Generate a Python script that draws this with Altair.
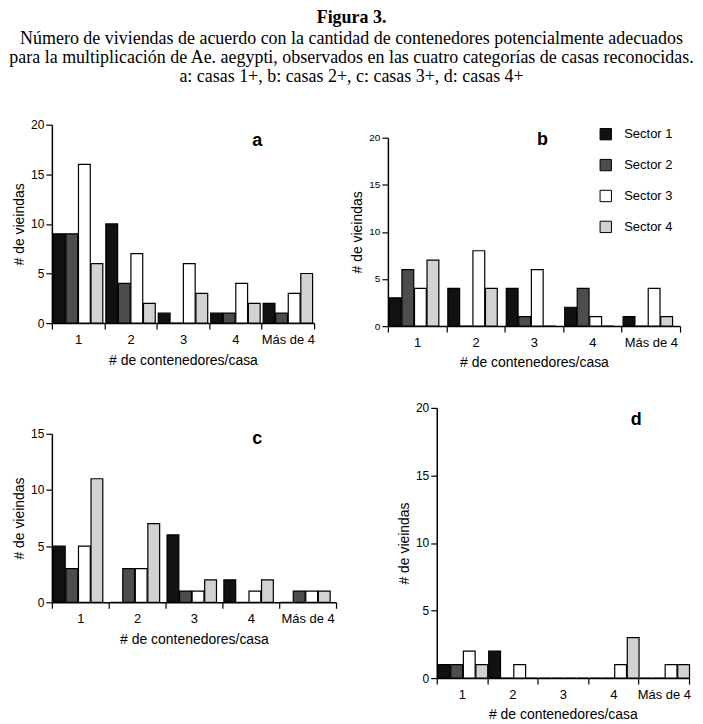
import altair as alt
import pandas as pd

cats = ["1", "2", "3", "4", "Más de 4"]
sectors = ["Sector 1", "Sector 2", "Sector 3", "Sector 4"]
fills = ["#111111", "#4d4d4d", "#ffffff", "#d2d2d2"]

a_vals = [[9, 10, 1, 1, 2], [9, 4, 0, 1, 1], [16, 7, 6, 4, 3], [6, 2, 3, 2, 5]]
b_vals = [[3, 4, 4, 2, 1], [6, 0, 1, 4, 0], [4, 8, 6, 1, 4], [7, 4, 0, 0, 1]]
c_vals = [[5, 0, 6, 2, 0], [3, 3, 1, 0, 1], [5, 3, 1, 1, 1], [11, 7, 2, 2, 1]]
d_vals = [[1, 2, 0, 0, 0], [1, 0, 0, 0, 0], [2, 1, 0, 1, 1], [1, 0, 0, 3, 1]]

title_main = "Figura 3."
subtitle_lines = [
    "Número de viviendas de acuerdo con la cantidad de contenedores potencialmente adecuados",
    "para la multiplicación de Ae. aegypti, observados en las cuatro categorías de casas reconocidas.",
    "a: casas 1+, b: casas 2+, c: casas 3+, d: casas 4+",
]

SANS = "Liberation Sans"


def long_df(vals):
    rows = []
    for s, series in zip(sectors, vals):
        for c, v in zip(cats, series):
            rows.append({"cat": c, "sector": s, "value": v})
    return pd.DataFrame(rows)


def panel(vals, ymax, yvals, w, h, letter, lx, ly, legend=None, ylabel_size=12):
    df = long_df(vals)
    bars = alt.Chart(df).mark_bar(stroke="black", strokeWidth=1.2).encode(
        x=alt.X(
            "cat:N",
            sort=cats,
            scale=alt.Scale(paddingInner=0, paddingOuter=0),
            axis=alt.Axis(
                title="# de contenedores/casa",
                tickBand="extent",
                labelAngle=0,
                labelFont=SANS,
                labelFontSize=13,
                labelColor="black",
                labelPadding=4,
                tickSize=6,
                tickColor="black",
                tickWidth=1.2,
                domainColor="black",
                domainWidth=1.5,
                titleFont=SANS,
                titleFontSize=14,
                titleFontWeight="normal",
                titleColor="black",
                titlePadding=7,
            ),
        ),
        xOffset=alt.XOffset(
            "sector:N", sort=sectors, scale=alt.Scale(paddingInner=0.06, paddingOuter=0.12)
        ),
        y=alt.Y(
            "value:Q",
            scale=alt.Scale(domain=[0, ymax], nice=False),
            axis=alt.Axis(
                values=yvals,
                title="# de vieindas",
                grid=False,
                labelFont=SANS,
                labelFontSize=ylabel_size,
                labelColor="black",
                tickSize=6,
                tickColor="black",
                tickWidth=1.2,
                domainColor="black",
                domainWidth=1.5,
                titleFont=SANS,
                titleFontSize=14,
                titleFontWeight="normal",
                titleColor="black",
                titlePadding=4,
            ),
        ),
        color=alt.Color(
            "sector:N",
            sort=sectors,
            scale=alt.Scale(domain=sectors, range=fills),
            legend=legend,
        ),
    )
    lab = alt.Chart(pd.DataFrame({"t": [letter]})).mark_text(
        font=SANS, fontSize=18, fontWeight="bold", color="black", baseline="middle"
    ).encode(text="t:N", x=alt.value(lx), y=alt.value(ly))
    return alt.layer(bars, lab).properties(width=w, height=h)


def spacer(h):
    return alt.Chart(pd.DataFrame({"z": [0]})).mark_point(opacity=0).encode(
        x=alt.value(0), y=alt.value(0)
    ).properties(width=1, height=h)


legend_b = alt.Legend(
    orient="none",
    legendX=212,
    legendY=-10,
    title=None,
    symbolType="square",
    symbolSize=130,
    symbolStrokeColor="black",
    symbolStrokeWidth=1,
    symbolOpacity=1,
    labelFont=SANS,
    labelFontSize=13,
    labelColor="black",
    labelOffset=12,
    rowPadding=14,
)

pa = panel(a_vals, 20, [0, 5, 10, 15, 20], 263, 199, "a", 206, 16)
pb = panel(b_vals, 20, [0, 5, 10, 15, 20], 293, 189, "b", 155, 2, legend=legend_b, ylabel_size=10)
pc = panel(c_vals, 15, [0, 5, 10, 15], 285, 169, "c", 206, 5)
pd_ = panel(d_vals, 20, [0, 5, 10, 15, 20], 253, 271, "d", 200, 12)

ind = dict(color="independent")
col_b = alt.vconcat(spacer(1), pb, spacing=0).resolve_scale(**ind)
col_c = alt.vconcat(spacer(10), pc, spacing=10).resolve_scale(**ind)
row1 = alt.hconcat(pa, col_b, spacing=35).resolve_scale(**ind)
row2 = alt.hconcat(col_c, pd_, spacing=60).resolve_scale(**ind)

chart = alt.vconcat(row1, row2, spacing=32).resolve_scale(**ind).properties(
    title=alt.TitleParams(
        text=title_main,
        subtitle=subtitle_lines,
        font="Liberation Serif",
        fontSize=18,
        fontWeight="bold",
        color="black",
        subtitleFont="Liberation Serif",
        subtitleFontSize=18,
        subtitleColor="black",
        subtitleLineHeight=19,
        subtitlePadding=3,
        anchor="middle",
        offset=33,
    ),
    padding={"left": 0, "top": 0, "right": 0, "bottom": 0},
).configure_view(stroke=None)

chart.save("out.html", embed_options={"renderer": "svg", "actions": False})
